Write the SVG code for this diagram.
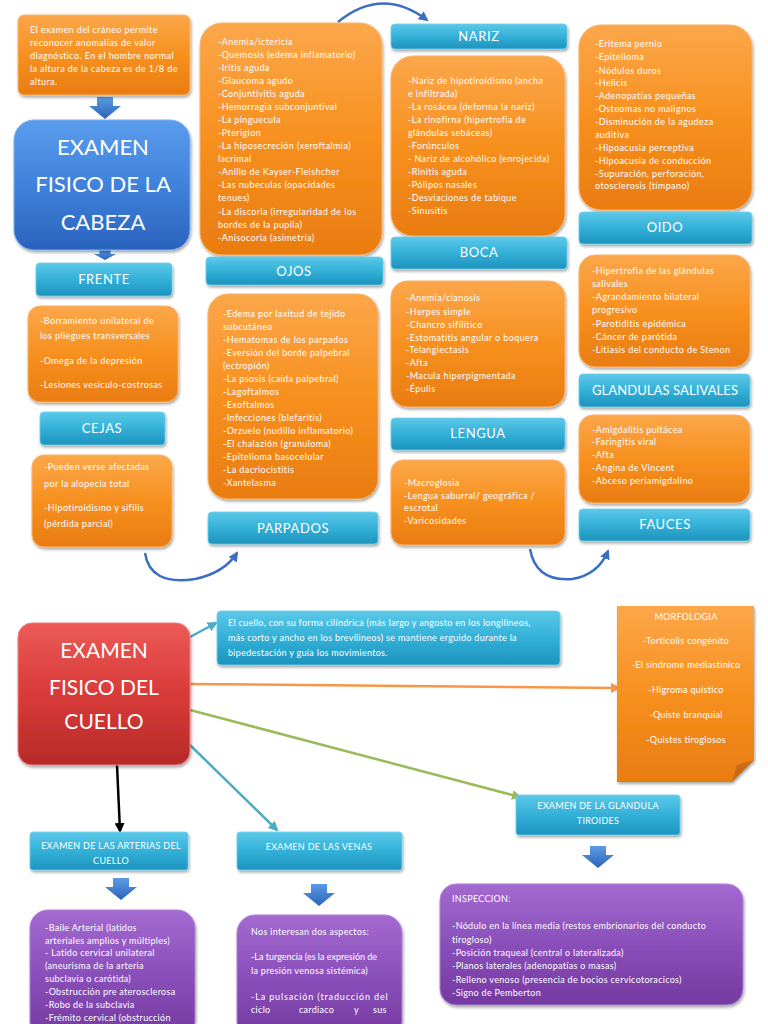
<svg xmlns="http://www.w3.org/2000/svg" width="768" height="1024" viewBox="0 0 768 1024">
<defs>
<linearGradient id="gOr" x1="0" y1="0" x2="0" y2="1"><stop offset="0" stop-color="#fba74a"/><stop offset="0.5" stop-color="#f7901f"/><stop offset="1" stop-color="#e97c10"/></linearGradient>
<linearGradient id="gTl" x1="0" y1="0" x2="0" y2="1"><stop offset="0" stop-color="#5cc8e8"/><stop offset="0.5" stop-color="#33b0d8"/><stop offset="1" stop-color="#1d93bd"/></linearGradient>
<linearGradient id="gBl" x1="0" y1="0" x2="0" y2="1"><stop offset="0" stop-color="#5a9cec"/><stop offset="0.5" stop-color="#3f82dc"/><stop offset="1" stop-color="#2a62bd"/></linearGradient>
<linearGradient id="gRd" x1="0" y1="0" x2="0" y2="1"><stop offset="0" stop-color="#ec5a57"/><stop offset="0.5" stop-color="#d83b39"/><stop offset="1" stop-color="#b72a28"/></linearGradient>
<linearGradient id="gPu" x1="0" y1="0" x2="0" y2="1"><stop offset="0" stop-color="#a36ad0"/><stop offset="0.5" stop-color="#8a4fba"/><stop offset="1" stop-color="#74399f"/></linearGradient>
<linearGradient id="gAr" x1="0" y1="0" x2="0" y2="1"><stop offset="0" stop-color="#5b9be6"/><stop offset="1" stop-color="#2c63b8"/></linearGradient>
<filter id="sh" x="-10%" y="-10%" width="120%" height="130%"><feDropShadow dx="1" dy="2" stdDeviation="1.5" flood-color="#000" flood-opacity="0.35"/></filter>
<marker id="mBlue" viewBox="0 0 10 10" refX="8" refY="5" markerWidth="4" markerHeight="4" orient="auto"><path d="M0,0 L10,5 L0,10 Z" fill="#3a6fc4"/></marker>
<marker id="mTeal" viewBox="0 0 10 10" refX="8" refY="5" markerWidth="4" markerHeight="4" orient="auto"><path d="M0,0 L10,5 L0,10 Z" fill="#4bacc6"/></marker>
<marker id="mOr" viewBox="0 0 10 10" refX="8" refY="5" markerWidth="4" markerHeight="4" orient="auto"><path d="M0,0 L10,5 L0,10 Z" fill="#f79646"/></marker>
<marker id="mGr" viewBox="0 0 10 10" refX="8" refY="5" markerWidth="4" markerHeight="4" orient="auto"><path d="M0,0 L10,5 L0,10 Z" fill="#9bbb59"/></marker>
<marker id="mBk" viewBox="0 0 10 10" refX="8" refY="5" markerWidth="4" markerHeight="4" orient="auto"><path d="M0,0 L10,5 L0,10 Z" fill="#000"/></marker>
<path id="blk" d="M-8,0 H8 V9 H16 L0,22 L-16,9 H-8 Z" fill="url(#gAr)"/>
</defs>
<style>
text{font-family:Lato,"Open Sans","Liberation Sans",sans-serif;fill:#fff}
.or{fill:url(#gOr);stroke:#f9b36a;stroke-width:1;filter:url(#sh)}
.tl{fill:url(#gTl);stroke:#6fd0ec;stroke-width:0.8;filter:url(#sh)}
.pu{fill:url(#gPu);stroke:#b07fd6;stroke-width:1;filter:url(#sh)}
.s{font-size:9px;letter-spacing:0.4px}
.s8{font-size:9px;letter-spacing:0.3px}
.lb{font-size:13px;letter-spacing:0.6px;text-anchor:middle}
.big{font-size:22px;text-anchor:middle}
.c{text-anchor:middle}
.con{fill:none;stroke-width:2.5}
</style>
<rect width="768" height="1024" fill="#fff"/>

<g id="connectors">
<path class="con" d="M338,22 Q382,-14 427,20" stroke="#3a6fc4" marker-end="url(#mBlue)"/>
<path class="con" d="M145,553 Q150,586 195,579 Q224,573 237,553" stroke="#3a6fc4" marker-end="url(#mBlue)"/>
<path class="con" d="M530,549 Q536,582 572,579 Q598,575 608,551" stroke="#3a6fc4" marker-end="url(#mBlue)"/>
<path class="con" d="M190,637 L216,623" stroke="#4bacc6" marker-end="url(#mTeal)"/>
<path class="con" d="M190,684 L619,688" stroke="#f79646" marker-end="url(#mOr)"/>
<path class="con" d="M190,710 L520,797" stroke="#9bbb59" marker-end="url(#mGr)"/>
<path class="con" d="M117,765 L120,831" stroke="#000" marker-end="url(#mBk)"/>
<path class="con" d="M190,745 L277,830" stroke="#4bacc6" marker-end="url(#mTeal)"/>
<use href="#blk" x="105" y="97"/>
<use href="#blk" x="105" y="250" transform="translate(105,250) scale(0.7,0.45) translate(-105,-250)"/>
<use href="#blk" x="121" y="878"/>
<use href="#blk" x="319" y="884"/>
<use href="#blk" x="598" y="846"/>
</g>

<g id="intro-craneo">
<rect class="or" x="18" y="15" width="172" height="80" rx="6"/>
<text class="s" x="30" y="33">El examen del cráneo permite</text>
<text class="s" x="30" y="46">reconocer anomalías de valor</text>
<text class="s" x="30" y="59">diagnóstico. En el hombre normal</text>
<text class="s" x="30" y="72">la altura de la cabeza es de 1/8 de</text>
<text class="s" x="30" y="85">altura.</text>
</g>

<g id="titulo-cabeza">
<rect x="14" y="120" width="176" height="130" rx="20" fill="url(#gBl)" stroke="#7ab0ef" filter="url(#sh)"/>
<text class="big" x="103" y="155">EXAMEN</text>
<text class="big" x="103" y="192">FISICO DE LA</text>
<text class="big" x="103" y="230">CABEZA</text>
</g>

<g id="frente">
<rect class="tl" x="36" y="263" width="136" height="33" rx="4"/>
<text class="lb" x="104" y="284">FRENTE</text>
</g>
<g id="frente-lista">
<rect class="or" x="28" y="306" width="150" height="96" rx="12"/>
<text class="s" x="40" y="324">-Borramiento unilateral de</text>
<text class="s" x="40" y="339">los pliegues transversales</text>
<text class="s" x="40" y="364">-Omega de la depresión</text>
<text class="s" x="40" y="388">-Lesiones vesiculo-costrosas</text>
</g>

<g id="cejas">
<rect class="tl" x="40" y="412" width="125" height="33" rx="4"/>
<text class="lb" x="102" y="433">CEJAS</text>
</g>
<g id="cejas-lista">
<rect class="or" x="32" y="455" width="140" height="92" rx="12"/>
<text class="s" x="44" y="470">-Pueden verse afectadas</text>
<text class="s" x="44" y="487">por la alopecia total</text>
<text class="s" x="44" y="511">-Hipotiroidismo y sífilis</text>
<text class="s" x="44" y="527">(pérdida parcial)</text>
</g>

<g id="ojos-lista">
<rect class="or" x="200" y="23" width="182" height="232" rx="22"/>
<text class="s" x="218" y="45">-Anemia/ictericia</text>
<text class="s" x="218" y="58">-Quemosis (edema inflamatorio)</text>
<text class="s" x="218" y="71">-Iritis aguda</text>
<text class="s" x="218" y="84">-Glaucoma agudo</text>
<text class="s" x="218" y="97">-Conjuntivitis aguda</text>
<text class="s" x="218" y="110">-Hemorragia subconjuntival</text>
<text class="s" x="218" y="123">-La pinguecula</text>
<text class="s" x="218" y="136">-Pterigion</text>
<text class="s" x="218" y="149">-La hiposecreción (xeroftalmia)</text>
<text class="s" x="218" y="162">lacrimal</text>
<text class="s" x="218" y="175">-Anillo de Kayser-Fleishcher</text>
<text class="s" x="218" y="188">-Las nubeculas (opacidades</text>
<text class="s" x="218" y="201">tenues)</text>
<text class="s" x="218" y="215">-La discoria (irregularidad de los</text>
<text class="s" x="218" y="228">bordes de la pupila)</text>
<text class="s" x="218" y="241">-Anisocoria (asimetría)</text>
</g>
<g id="ojos">
<rect class="tl" x="206" y="257" width="177" height="28" rx="4"/>
<text class="lb" x="294" y="276">OJOS</text>
</g>

<g id="parpados-lista">
<rect class="or" x="208" y="294" width="170" height="205" rx="20"/>
<text class="s" x="223" y="317">-Edema por laxitud de tejido</text>
<text class="s" x="223" y="330">subcutáneo</text>
<text class="s" x="223" y="343">-Hematomas de los parpados</text>
<text class="s" x="223" y="356">-Eversión del borde palpebral</text>
<text class="s" x="223" y="369">(ectropión)</text>
<text class="s" x="223" y="382">-La psosis (caída palpebral)</text>
<text class="s" x="223" y="395">-Lagoftalmos</text>
<text class="s" x="223" y="408">-Exoftalmos</text>
<text class="s" x="223" y="421">-Infecciones (blefaritis)</text>
<text class="s" x="223" y="434">-Orzuelo (nudillo inflamatorio)</text>
<text class="s" x="223" y="447">-El chalazión (granuloma)</text>
<text class="s" x="223" y="460">-Epitelioma basocelular</text>
<text class="s" x="223" y="473">-La dacriocistitis</text>
<text class="s" x="223" y="486">-Xantelasma</text>
</g>
<g id="parpados">
<rect class="tl" x="208" y="512" width="170" height="32" rx="4"/>
<text class="lb" x="293" y="533">PARPADOS</text>
</g>

<g id="nariz">
<rect class="tl" x="391" y="24" width="176" height="25" rx="4"/>
<text class="lb" x="479" y="41">NARIZ</text>
</g>
<g id="nariz-lista">
<rect class="or" x="391" y="56" width="174" height="180" rx="22"/>
<text class="s" x="408" y="84">-Nariz de hipotiroidismo (ancha</text>
<text class="s" x="408" y="97">e infiltrada)</text>
<text class="s" x="408" y="110">-La rosácea (deforma la nariz)</text>
<text class="s" x="408" y="123">-La rinofirna (hipertrofia de</text>
<text class="s" x="408" y="136">glándulas sebáceas)</text>
<text class="s" x="408" y="149">-Forúnculos</text>
<text class="s" x="408" y="162">- Nariz de alcohólico (enrojecida)</text>
<text class="s" x="408" y="175">-Rinitis aguda</text>
<text class="s" x="408" y="188">-Pólipos nasales</text>
<text class="s" x="408" y="201">-Desviaciones de tabique</text>
<text class="s" x="408" y="214">-Sinusitis</text>
</g>
<g id="boca">
<rect class="tl" x="391" y="237" width="176" height="32" rx="4"/>
<text class="lb" x="479" y="257">BOCA</text>
</g>
<g id="boca-lista">
<rect class="or" x="391" y="281" width="174" height="126" rx="16"/>
<text class="s" x="406" y="301">-Anemia/cianosis</text>
<text class="s" x="406" y="315">-Herpes simple</text>
<text class="s" x="406" y="328">-Chancro sifilítico</text>
<text class="s" x="406" y="341">-Estomatitis angular o boquera</text>
<text class="s" x="406" y="353">-Telangiectasis</text>
<text class="s" x="406" y="366">-Afta</text>
<text class="s" x="406" y="379">-Macula hiperpigmentada</text>
<text class="s" x="406" y="392">-Épulis</text>
</g>
<g id="lengua">
<rect class="tl" x="391" y="418" width="174" height="32" rx="4"/>
<text class="lb" x="478" y="438">LENGUA</text>
</g>
<g id="lengua-lista">
<rect class="or" x="391" y="460" width="174" height="85" rx="12"/>
<text class="s" x="404" y="486">-Macroglosia</text>
<text class="s" x="404" y="499">-Lengua saburral/ geográfica /</text>
<text class="s" x="404" y="511">escrotal</text>
<text class="s" x="404" y="524">-Varicosidades</text>
</g>

<g id="oido-lista">
<rect class="or" x="579" y="25" width="173" height="185" rx="22"/>
<text class="s" x="595" y="47">-Eritema pernio</text>
<text class="s" x="595" y="60">-Epitelioma</text>
<text class="s" x="595" y="74">-Nódulos duros</text>
<text class="s" x="595" y="86">-Helicis</text>
<text class="s" x="595" y="99">-Adenopatías pequeñas</text>
<text class="s" x="595" y="112">-Osteomas no malignos</text>
<text class="s" x="595" y="125">-Disminución de la agudeza</text>
<text class="s" x="595" y="138">auditiva</text>
<text class="s" x="595" y="151">-Hipoacusia perceptiva</text>
<text class="s" x="595" y="164">-Hipoacusia de conducción</text>
<text class="s" x="595" y="177">-Supuración, perforación,</text>
<text class="s" x="595" y="189">otosclerosis (tímpano)</text>
</g>
<g id="oido">
<rect class="tl" x="579" y="212" width="173" height="32" rx="4"/>
<text class="lb" x="665" y="232">OIDO</text>
</g>
<g id="glandulas-lista">
<rect class="or" x="579" y="255" width="171" height="112" rx="16"/>
<text class="s" x="592" y="274">-Hipertrofia de las glándulas</text>
<text class="s" x="592" y="287">salivales</text>
<text class="s" x="592" y="300">-Agrandamiento bilateral</text>
<text class="s" x="592" y="313">progresivo</text>
<text class="s" x="592" y="327">-Parotiditis epidémica</text>
<text class="s" x="592" y="340">-Cáncer de parótida</text>
<text class="s" x="592" y="353">-Litiasis del conducto de Stenon</text>
</g>
<g id="glandulas">
<rect class="tl" x="579" y="374" width="171" height="33" rx="4"/>
<text class="lb" x="665" y="395" style="font-size:13px;letter-spacing:0.1px">GLANDULAS SALIVALES</text>
</g>
<g id="fauces-lista">
<rect class="or" x="579" y="415" width="171" height="88" rx="14"/>
<text class="s" x="592" y="433">-Amigdalitis pultácea</text>
<text class="s" x="592" y="445">-Faringitis viral</text>
<text class="s" x="592" y="458">-Afta</text>
<text class="s" x="592" y="471">-Angina de Vincent</text>
<text class="s" x="592" y="484">-Abceso periamigdalino</text>
</g>
<g id="fauces">
<rect class="tl" x="579" y="509" width="171" height="32" rx="4"/>
<text class="lb" x="665" y="529">FAUCES</text>
</g>

<g id="titulo-cuello">
<rect x="18" y="623" width="172" height="142" rx="14" fill="url(#gRd)" stroke="#f08080" filter="url(#sh)"/>
<text class="big" x="104" y="658" style="font-size:21px">EXAMEN</text>
<text class="big" x="104" y="695" style="font-size:21px">FISICO DEL</text>
<text class="big" x="104" y="729" style="font-size:21px">CUELLO</text>
</g>

<g id="cuello-intro">
<rect class="tl" x="217" y="611" width="343" height="54" rx="4"/>
<text class="s8" x="228" y="626">El cuello, con su forma cilíndrica (más largo y angosto en los longilineos,</text>
<text class="s8" x="228" y="641">más corto y ancho en los brevilineos) se mantiene erguido durante la</text>
<text class="s8" x="228" y="656">bipedestación y guía los movimientos.</text>
</g>

<g id="morfologia">
<path d="M617,606 H754 V760 L732,782 H617 Z" fill="url(#gOr)" filter="url(#sh)"/>
<path d="M732,782 L737,765 L754,760 Z" fill="#c96a12"/>
<text class="s8 c" x="686" y="620">MORFOLOGIA</text>
<text class="s8 c" x="686" y="644">-Torticolis congénito</text>
<text class="s8 c" x="686" y="668">-El síndrome mediastinico</text>
<text class="s8 c" x="686" y="693">-Higroma quístico</text>
<text class="s8 c" x="686" y="718">-Quiste branquial</text>
<text class="s8 c" x="686" y="743">-Quistes tiroglosos</text>
</g>

<g id="tiroides">
<rect class="tl" x="516" y="795" width="164" height="40" rx="3"/>
<text class="s8 c" x="598" y="809">EXAMEN DE LA GLANDULA</text>
<text class="s8 c" x="598" y="824">TIROIDES</text>
</g>
<g id="inspeccion">
<rect class="pu" x="440" y="884" width="303" height="121" rx="16"/>
<text class="s8" x="452" y="902">INSPECCION:</text>
<text class="s8" x="452" y="929">-Nódulo en la línea media (restos embrionarios del conducto</text>
<text class="s8" x="452" y="943">tirogloso)</text>
<text class="s8" x="452" y="956">-Posición traqueal (central o lateralizada)</text>
<text class="s8" x="452" y="969">-Planos laterales (adenopatías o masas)</text>
<text class="s8" x="452" y="983">-Relleno venoso (presencia de bocios cervicotoracicos)</text>
<text class="s8" x="452" y="996">-Signo de Pemberton</text>
</g>

<g id="arterias">
<rect class="tl" x="30" y="832" width="158" height="38" rx="3"/>
<text class="s8 c" x="111" y="849">EXAMEN DE LAS ARTERIAS DEL</text>
<text class="s8 c" x="111" y="864">CUELLO</text>
</g>
<g id="arterias-lista">
<rect class="pu" x="30" y="910" width="165" height="130" rx="18"/>
<text class="s8" x="45" y="931">-Baile Arterial (latidos</text>
<text class="s8" x="45" y="944">arteriales amplios y múltiples)</text>
<text class="s8" x="45" y="956">- Latido cervical unilateral</text>
<text class="s8" x="45" y="969">(aneurisma de la arteria</text>
<text class="s8" x="45" y="982">subclavia o carótida)</text>
<text class="s8" x="45" y="995">-Obstrucción pre aterosclerosa</text>
<text class="s8" x="45" y="1008">-Robo de la subclavia</text>
<text class="s8" x="45" y="1021">-Frémito cervical (obstrucción</text>
</g>

<g id="venas">
<rect class="tl" x="237" y="832" width="165" height="38" rx="3"/>
<text class="s8 c" x="319" y="850">EXAMEN DE LAS VENAS</text>
</g>
<g id="venas-lista">
<rect class="pu" x="237" y="915" width="165" height="125" rx="18"/>
<text class="s8" x="251" y="935">Nos interesan dos aspectos:</text>
<text class="s8" x="251" y="960" style="letter-spacing:0">-La turgencia (es la expresión de</text>
<text class="s8" x="251" y="974">la presión venosa sistémica)</text>
<text class="s8" x="251" y="1000" textLength="137" lengthAdjust="spacing">-La pulsación (traducción del</text>
<text class="s8" x="251" y="1013">ciclo</text>
<text class="s8" x="299" y="1013">cardiaco</text>
<text class="s8" x="354" y="1013">y</text>
<text class="s8" x="373" y="1013">sus</text>
</g>
</svg>
